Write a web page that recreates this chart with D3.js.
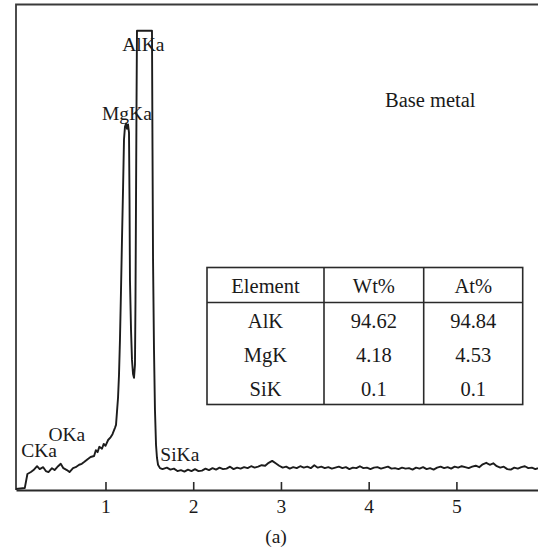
<!DOCTYPE html>
<html>
<head>
<meta charset="utf-8">
<script src="https://cdn.jsdelivr.net/npm/d3@7"></script>
<style>
  body { margin: 0; background: #fff; }
  text { font-family: 'Liberation Serif', 'DejaVu Serif', serif; fill: #1a1a1a; }
</style>
</head>
<body>
<div id="chart"></div>
<script>
// EDS spectrum, base metal: [energy keV, counts (arbitrary, peak clipped)]
let spectrum = [
  [-0.02, 0.2], [0.08, 0.4], [0.11, 3.3], [0.15, 3.7], [0.18, 4.1], [0.22, 4.9],
  [0.25, 4.3], [0.29, 4.7], [0.32, 3.9], [0.35, 3.7], [0.39, 4.5], [0.42, 4.1],
  [0.46, 4.9], [0.49, 5.4], [0.52, 4.5], [0.56, 4.1], [0.59, 3.7], [0.63, 4.5],
  [0.66, 4.7], [0.70, 5.2], [0.73, 5.4], [0.76, 5.8], [0.80, 6.4], [0.83, 6.8],
  [0.87, 7.0], [0.89, 8.2], [0.91, 7.8], [0.93, 8.9], [0.96, 8.5], [0.98, 9.5],
  [1.00, 9.1], [1.03, 10.3], [1.06, 10.9], [1.08, 11.5], [1.108, 12.8],
  [1.120, 13.4], [1.131, 16.1], [1.143, 19.0], [1.154, 23.7], [1.165, 30.9],
  [1.177, 41.2], [1.188, 51.5], [1.200, 61.9], [1.211, 72.2], [1.222, 74.8],
  [1.234, 75.5], [1.245, 74.4], [1.257, 75.3], [1.268, 73.6], [1.274, 59.8],
  [1.279, 43.3], [1.291, 33.0], [1.302, 26.8], [1.314, 23.9], [1.325, 23.1],
  [1.336, 25.8], [1.342, 39.2], [1.348, 59.8], [1.354, 80.4], [1.359, 94.6],
  [1.439, 94.6], [1.530, 94.6], [1.536, 70.1], [1.542, 47.4], [1.553, 28.9],
  [1.564, 16.5], [1.576, 9.3], [1.587, 6.6], [1.599, 5.2], [1.621, 4.5],
  [1.65, 4.3], [1.70, 4.6], [1.74, 4.2], [1.78, 4.4], [1.82, 3.9], [1.86, 4.1],
  [1.90, 3.8], [1.94, 4.2], [1.98, 3.9], [2.02, 4.3], [2.06, 3.9], [2.10, 4.0],
  [2.14, 4.4], [2.18, 4.1], [2.22, 4.5], [2.26, 4.2], [2.30, 4.6], [2.34, 4.3],
  [2.38, 4.4], [2.42, 4.8], [2.46, 4.3], [2.50, 4.6], [2.54, 4.4], [2.58, 4.7],
  [2.62, 4.5], [2.66, 4.9], [2.70, 4.6], [2.74, 4.8], [2.78, 5.1], [2.82, 5.0],
  [2.86, 5.6], [2.90, 6.0], [2.94, 5.5], [2.98, 5.0], [3.02, 4.6], [3.06, 4.8],
  [3.10, 4.4], [3.14, 4.7], [3.18, 4.5], [3.22, 4.9], [3.26, 4.6], [3.30, 4.8],
  [3.34, 4.5], [3.38, 5.1], [3.42, 4.6], [3.46, 4.8], [3.50, 4.5], [3.54, 4.7],
  [3.58, 4.4], [3.62, 4.6], [3.66, 4.8], [3.70, 4.5], [3.74, 4.7], [3.78, 4.3],
  [3.82, 4.6], [3.86, 4.5], [3.90, 4.9], [3.94, 4.5], [3.98, 4.6], [4.02, 4.3],
  [4.06, 4.6], [4.10, 4.7], [4.14, 4.4], [4.18, 4.6], [4.22, 4.8], [4.26, 4.4],
  [4.30, 4.5], [4.34, 4.3], [4.38, 4.6], [4.42, 4.4], [4.46, 4.5], [4.50, 4.2],
  [4.54, 4.6], [4.58, 4.4], [4.62, 4.7], [4.66, 4.3], [4.70, 4.5], [4.74, 4.2],
  [4.78, 4.6], [4.82, 4.8], [4.86, 4.5], [4.90, 4.7], [4.94, 4.4], [4.98, 4.8],
  [5.02, 4.6], [5.06, 4.9], [5.10, 4.7], [5.14, 4.5], [5.18, 4.8], [5.22, 5.0],
  [5.26, 4.7], [5.30, 5.3], [5.34, 5.6], [5.38, 5.2], [5.42, 5.5], [5.46, 4.9],
  [5.50, 4.6], [5.54, 4.8], [5.58, 4.3], [5.62, 4.2], [5.66, 4.6], [5.70, 4.4],
  [5.74, 4.7], [5.78, 4.9], [5.82, 4.5], [5.86, 4.6], [5.90, 4.3], [5.93, 4.5]
]

// peak labels: [label, keV, counts] (text placed at left edge / baseline)
let peakLabels = [
  ['CKa', 0.04, 6.8],
  ['OKa', 0.35, 10.1],
  ['MgKa', 0.96, 76.3],
  ['AlKa', 1.19, 90.5],
  ['SiKa', 1.625, 5.9]
]

let xTicks = [1, 2, 3, 4, 5]

let tableHeader = ['Element', 'Wt%', 'At%']
let tableElements = ['AlK', 'MgK', 'SiK']
let tableWt = ['94.62', '4.18', '0.1']
let tableAt = ['94.84', '4.53', '0.1']

let margin = { top: 4.5, left: 16, right: 0, bottom: 66 }
let width = 538 - margin.left - margin.right
let height = 556 - margin.top - margin.bottom

let svg = d3
  .select('#chart')
  .append('svg')
  .attr('width', 538)
  .attr('height', 556)
  .append('g')
  .attr('transform', `translate(${margin.left}, ${margin.top})`)

let xPositionScale = d3.scaleLinear().domain([-0.02, 5.93]).range([0, width])
let yPositionScale = d3.scaleLinear().domain([0, 100]).range([height, 0])

// frame: top and left edges
svg
  .append('path')
  .attr('d', `M0,${height} V0 H${width}`)
  .attr('fill', 'none')
  .attr('stroke', '#3a3a3a')
  .attr('stroke-width', 1.8)

let line = d3
  .line()
  .x(d => xPositionScale(d[0]))
  .y(d => yPositionScale(d[1]))

svg
  .append('path')
  .datum(spectrum)
  .attr('class', 'spectrum-line')
  .attr('d', line)
  .attr('fill', 'none')
  .attr('stroke', '#1c1c1c')
  .attr('stroke-width', 1.9)
  .attr('stroke-linejoin', 'round')

let xAxis = d3
  .axisBottom(xPositionScale)
  .tickValues(xTicks)
  .tickFormat(d3.format('d'))
  .tickSizeInner(-8)
  .tickSizeOuter(0)
  .tickPadding(9.5)

let xAxisG = svg
  .append('g')
  .attr('class', 'axis x-axis')
  .attr('transform', `translate(0,${height})`)
  .call(xAxis)

xAxisG.select('.domain').attr('stroke', '#2a2a2a').attr('stroke-width', 1.8)
xAxisG.selectAll('.tick line').attr('stroke', '#2a2a2a').attr('stroke-width', 1.6)
xAxisG
  .selectAll('.tick text')
  .attr('font-size', 19.5)
  .attr('font-family', "'Liberation Serif', serif")
  .attr('fill', '#1a1a1a')

svg
  .selectAll('.peak-label')
  .data(peakLabels)
  .enter()
  .append('text')
  .attr('class', 'peak-label')
  .attr('x', d => xPositionScale(d[1]))
  .attr('y', d => yPositionScale(d[2]))
  .attr('font-size', 19.5)
  .text(d => d[0])

svg
  .append('text')
  .attr('x', 369)
  .attr('y', 102.5)
  .attr('font-size', 20.5)
  .text('Base metal')

// composition table
let tableX = 191
let tableY = 263
let colEdges = [0, 117, 216.7, 315.7]
let headerH = 35
let rowH = 34

let table = svg.append('g').attr('transform', `translate(${tableX},${tableY})`)
let tableH = headerH + rowH * tableElements.length

table
  .append('rect')
  .attr('width', colEdges[3])
  .attr('height', tableH)
  .attr('fill', 'white')
  .attr('stroke', '#2a2a2a')
  .attr('stroke-width', 1.6)

table
  .selectAll('.col-line')
  .data(colEdges.slice(1, 3))
  .enter()
  .append('line')
  .attr('x1', d => d)
  .attr('x2', d => d)
  .attr('y1', 0)
  .attr('y2', tableH)
  .attr('stroke', '#2a2a2a')
  .attr('stroke-width', 1.6)

table
  .append('line')
  .attr('x1', 0)
  .attr('x2', colEdges[3])
  .attr('y1', headerH)
  .attr('y2', headerH)
  .attr('stroke', '#2a2a2a')
  .attr('stroke-width', 1.6)

let colCenter = i => (colEdges[i] + colEdges[i + 1]) / 2

table
  .selectAll('.head-text')
  .data(tableHeader)
  .enter()
  .append('text')
  .attr('class', 'head-text')
  .attr('x', (d, i) => colCenter(i))
  .attr('y', 25)
  .attr('text-anchor', 'middle')
  .attr('font-size', 20.5)
  .text(d => d)

let rows = tableElements.map((el, i) => [el, tableWt[i], tableAt[i]])

rows.forEach((row, r) => {
  table
    .selectAll('.row-text-' + r)
    .data(row)
    .enter()
    .append('text')
    .attr('x', (d, i) => colCenter(i))
    .attr('y', 60.5 + r * 33.8)
    .attr('text-anchor', 'middle')
    .attr('font-size', 20.5)
    .text(d => d)
})

svg
  .append('text')
  .attr('x', 260)
  .attr('y', 538)
  .attr('text-anchor', 'middle')
  .attr('font-size', 19.5)
  .text('(a)')
</script>
</body>
</html>
